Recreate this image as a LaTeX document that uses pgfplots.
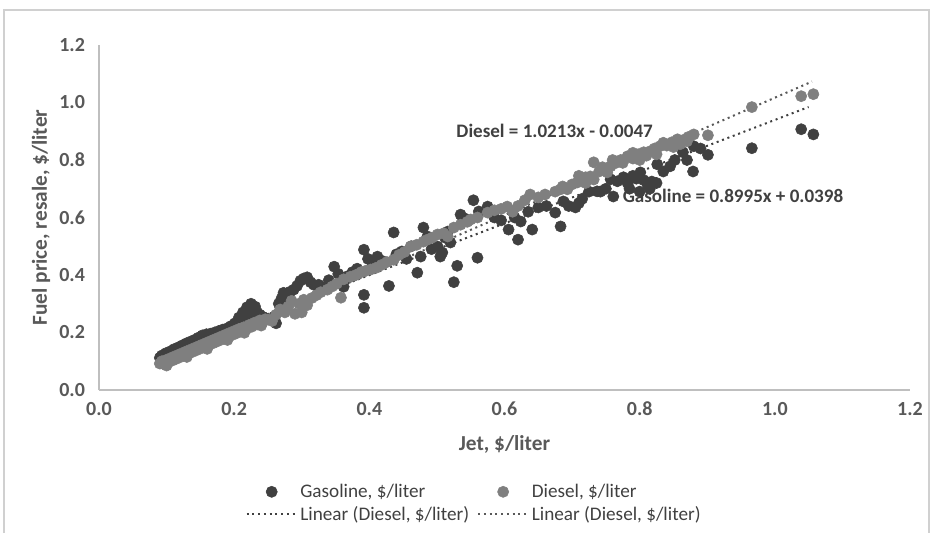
\documentclass[border=0pt]{standalone}
\usepackage{pgfplots}
\pgfplotsset{compat=1.18}
\usepackage{fontspec}
\setmainfont{Carlito}
\definecolor{gasc}{HTML}{404040}
\definecolor{diec}{HTML}{7F7F7F}
\definecolor{txtc}{HTML}{595959}
\definecolor{axc}{HTML}{BFBFBF}
\definecolor{frc}{HTML}{D0D0D0}

\pgfplotsset{
  dotleg/.style={legend image code/.code={\draw[mark repeat=2,mark phase=2,##1] plot coordinates {(0pt,0pt) (18.75pt,0pt) (37.5pt,0pt)};}},
  lineleg/.style={legend image code/.code={\draw[##1] (0pt,0pt) -- (37.5pt,0pt);}},
}

\pgfplotstableread{
x y
0.090 0.112
0.093 0.120
0.096 0.116
0.099 0.128
0.102 0.122
0.105 0.134
0.108 0.128
0.111 0.142
0.114 0.136
0.117 0.148
0.120 0.140
0.123 0.155
0.126 0.148
0.129 0.162
0.132 0.154
0.135 0.168
0.138 0.160
0.141 0.174
0.144 0.166
0.147 0.182
0.150 0.172
0.153 0.190
0.156 0.178
0.159 0.194
0.162 0.182
0.165 0.196
0.168 0.186
0.171 0.200
0.174 0.190
0.177 0.205
0.180 0.195
0.183 0.210
0.186 0.200
0.189 0.214
0.192 0.206
0.195 0.222
0.198 0.212
0.201 0.232
0.204 0.226
0.207 0.252
0.210 0.244
0.213 0.270
0.216 0.262
0.219 0.288
0.222 0.276
0.225 0.300
0.228 0.284
0.231 0.290
0.234 0.270
0.238 0.262
0.242 0.255
0.246 0.250
0.212 0.236
0.220 0.250
0.228 0.262
0.236 0.244
0.259 0.255
0.262 0.232
0.266 0.300
0.270 0.318
0.273 0.338
0.278 0.325
0.283 0.342
0.288 0.349
0.293 0.362
0.298 0.380
0.303 0.388
0.308 0.392
0.313 0.375
0.318 0.366
0.325 0.366
0.332 0.356
0.340 0.382
0.348 0.429
0.354 0.404
0.362 0.359
0.368 0.396
0.375 0.410
0.382 0.422
0.392 0.488
0.398 0.456
0.392 0.331
0.392 0.286
0.405 0.432
0.412 0.464
0.418 0.450
0.429 0.362
0.436 0.548
0.440 0.472
0.448 0.482
0.455 0.456
0.462 0.500
0.471 0.408
0.476 0.464
0.480 0.565
0.486 0.534
0.492 0.490
0.501 0.499
0.505 0.464
0.508 0.478
0.512 0.530
0.516 0.551
0.520 0.513
0.525 0.375
0.530 0.432
0.535 0.610
0.538 0.600
0.545 0.593
0.554 0.660
0.560 0.460
0.562 0.621
0.575 0.638
0.585 0.600
0.595 0.590
0.606 0.558
0.615 0.600
0.620 0.523
0.624 0.586
0.635 0.620
0.641 0.558
0.650 0.635
0.662 0.640
0.675 0.617
0.683 0.569
0.687 0.656
0.695 0.640
0.705 0.635
0.710 0.650
0.715 0.665
0.725 0.690
0.737 0.691
0.742 0.690
0.750 0.700
0.757 0.733
0.761 0.673
0.767 0.726
0.776 0.740
0.782 0.720
0.785 0.700
0.790 0.745
0.795 0.735
0.800 0.690
0.801 0.757
0.806 0.730
0.812 0.712
0.815 0.700
0.818 0.725
0.825 0.720
0.826 0.785
0.835 0.760
0.845 0.778
0.852 0.800
0.864 0.827
0.870 0.800
0.879 0.760
0.880 0.848
0.890 0.840
0.901 0.818
0.966 0.841
1.039 0.907
1.057 0.889
}\gasoline

\pgfplotstableread{
x y
0.090 0.092
0.093 0.100
0.096 0.090
0.099 0.104
0.100 0.085
0.102 0.096
0.105 0.110
0.108 0.102
0.111 0.116
0.114 0.108
0.117 0.122
0.120 0.114
0.123 0.128
0.126 0.120
0.129 0.134
0.130 0.115
0.132 0.126
0.135 0.140
0.138 0.132
0.141 0.146
0.144 0.138
0.147 0.152
0.150 0.144
0.153 0.158
0.156 0.150
0.159 0.164
0.160 0.143
0.162 0.156
0.165 0.170
0.168 0.162
0.171 0.176
0.174 0.168
0.177 0.182
0.180 0.174
0.183 0.188
0.186 0.180
0.189 0.194
0.190 0.174
0.192 0.186
0.195 0.200
0.198 0.192
0.201 0.206
0.204 0.198
0.207 0.212
0.210 0.204
0.214 0.218
0.215 0.199
0.218 0.212
0.222 0.226
0.226 0.220
0.230 0.234
0.234 0.228
0.238 0.242
0.240 0.224
0.242 0.236
0.246 0.246
0.250 0.245
0.256 0.240
0.262 0.262
0.268 0.280
0.275 0.270
0.280 0.290
0.285 0.310
0.290 0.265
0.296 0.300
0.300 0.270
0.303 0.314
0.308 0.295
0.315 0.320
0.322 0.330
0.328 0.340
0.338 0.349
0.345 0.360
0.352 0.370
0.358 0.321
0.362 0.385
0.372 0.394
0.380 0.400
0.388 0.410
0.395 0.415
0.402 0.419
0.410 0.425
0.418 0.435
0.426 0.445
0.436 0.453
0.444 0.470
0.452 0.480
0.461 0.499
0.470 0.505
0.480 0.516
0.486 0.523
0.493 0.530
0.501 0.541
0.510 0.545
0.516 0.534
0.525 0.565
0.535 0.575
0.545 0.585
0.550 0.593
0.560 0.600
0.575 0.617
0.585 0.625
0.595 0.630
0.604 0.638
0.612 0.620
0.620 0.640
0.630 0.660
0.638 0.680
0.650 0.670
0.660 0.680
0.675 0.690
0.683 0.698
0.686 0.708
0.693 0.698
0.700 0.715
0.708 0.722
0.710 0.745
0.720 0.740
0.720 0.720
0.727 0.743
0.732 0.732
0.732 0.792
0.740 0.760
0.745 0.775
0.752 0.757
0.757 0.778
0.760 0.800
0.765 0.790
0.772 0.800
0.775 0.790
0.782 0.813
0.790 0.805
0.790 0.825
0.798 0.820
0.800 0.800
0.806 0.827
0.810 0.815
0.815 0.830
0.822 0.840
0.825 0.820
0.830 0.848
0.835 0.860
0.840 0.850
0.848 0.862
0.850 0.845
0.856 0.872
0.860 0.855
0.865 0.870
0.870 0.865
0.872 0.880
0.880 0.889
0.901 0.886
0.966 0.984
1.039 1.022
1.057 1.029
}\diesel

\begin{document}
\begin{tikzpicture}[x=0.75pt,y=0.75pt]
\path[use as bounding box] (0,0) rectangle (932,533);
\draw[frc, line width=1.2pt] (4,0) -- (4,523) -- (929,523) -- (929,0);
\begin{axis}[
    at={(74.25pt,107.25pt)}, anchor=south west,
    width=608.25pt, height=258.75pt, scale only axis,
    xmin=0, xmax=1.2, ymin=0, ymax=1.2,
    xtick={0,0.2,0.4,0.6,0.8,1.0,1.2},
    ytick={0,0.2,0.4,0.6,0.8,1.0,1.2},
    axis x line=bottom, axis y line=left,
    axis line style={-, axc, line width=0.8pt},
    major tick length=0pt,
    /pgf/number format/.cd, fixed, fixed zerofill, precision=1, assume math mode=true,
    /pgfplots/.cd,
    ticklabel style={font=\fontsize{15}{17}\selectfont\bfseries, text=txtc},
    yticklabel style={xshift=-7pt},
    xticklabel style={yshift=-5.5pt},
    xlabel={Jet, \$/liter},
    ylabel={Fuel price, resale, \$/liter},
    label style={font=\fontsize{16}{18}\selectfont\bfseries, text=txtc},
    xlabel style={at={(axis description cs:0.5,-0.159)}, anchor=center},
    ylabel style={at={(axis description cs:-0.0715,0.5)}, anchor=center},
    legend columns=2,
    legend style={draw=none, fill=none, at={(axis description cs:0.463,-0.328)}, anchor=center,
        font=\fontsize{14.4}{16}\selectfont, text=gasc, row sep=1pt,
        /tikz/every even column/.append style={column sep=4pt}},
    legend cell align=left,
]
\node[anchor=west, text=gasc, font=\fontsize{14.3}{16}\selectfont\bfseries] at (axis cs:0.522,0.903) {Diesel = 1.0213x - 0.0047};
\node[anchor=west, text=gasc, font=\fontsize{14.3}{16}\selectfont\bfseries] at (axis cs:0.768,0.675) {Gasoline = 0.8995x + 0.0398};
\addplot[only marks, mark=*, mark size=4.2pt, mark options={draw=gasc, fill=gasc}, dotleg]
    table[x=x, y=y] {\gasoline};
\addlegendentry{Gasoline, \$/liter}
\addplot[only marks, mark=*, mark size=4.2pt, mark options={draw=diec, fill=diec}, dotleg]
    table[x=x, y=y] {\diesel};
\addlegendentry{Diesel, \$/liter}
\addplot[gasc, line width=1.5pt, dash pattern=on 1.5pt off 2.8pt, lineleg]
    coordinates {(0.09,0.1208) (1.050,0.9843)};
\addlegendentry{Linear (Diesel, \$/liter)}
\addplot[txtc, line width=1.5pt, dash pattern=on 1.5pt off 2.8pt, lineleg]
    coordinates {(0.09,0.0872) (1.055,1.0728)};
\addlegendentry{Linear (Diesel, \$/liter)}
\end{axis}
\end{tikzpicture}
\end{document}
